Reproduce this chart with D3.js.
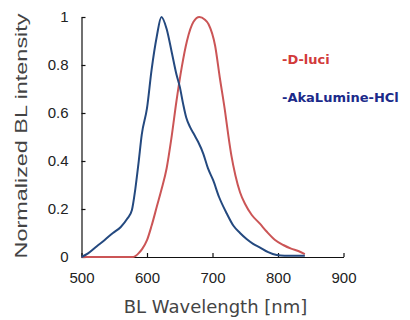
<!DOCTYPE html>
<html>
<head>
<meta charset="utf-8">
<script src="https://cdn.jsdelivr.net/npm/d3@7"></script>
<style>
  body { margin: 0; background: #fff; }
  svg { display: block; font-family: "Liberation Sans", Arial, sans-serif; }
</style>
</head>
<body>
<div id="chart"></div>
<script>
    const xTicks = [500, 600, 700, 800, 900];
    const yTicks = [0, 0.2, 0.4, 0.6, 0.8, 1];

    // D-luci
    const luciWave = [500, 579, 583, 587, 593, 600, 607, 615, 622, 630, 637, 645, 653, 661, 671, 680, 688, 694, 704, 711, 719, 724, 729, 735, 742, 750, 760, 772, 783, 795, 808, 820, 831, 841];
    const luciVal = [0, 0, 0.005, 0.015, 0.035, 0.07, 0.13, 0.21, 0.28, 0.37, 0.49, 0.65, 0.79, 0.9, 0.98, 1.0, 0.99, 0.97, 0.88, 0.75, 0.61, 0.51, 0.42, 0.34, 0.27, 0.22, 0.175, 0.14, 0.105, 0.072, 0.05, 0.035, 0.025, 0.012];

    // AkaLumine-HCl
    const akaWave = [500, 510, 523, 535, 548, 560, 570, 577, 582, 587, 592, 600, 607, 615, 622, 630, 638, 645, 650, 655, 660, 666, 672, 678, 686, 693, 701, 710, 722, 732, 742, 752, 762, 772, 785, 798, 810, 825, 841];
    const akaVal = [0, 0.015, 0.044, 0.07, 0.1, 0.125, 0.16, 0.196, 0.28, 0.39, 0.51, 0.62, 0.78, 0.92, 1.0, 0.95, 0.85, 0.76, 0.71, 0.64, 0.58, 0.54, 0.51, 0.48, 0.43, 0.37, 0.32, 0.25, 0.18, 0.13, 0.1, 0.075, 0.055, 0.04, 0.02, 0.008, 0.005, 0.005, 0.005];

    const w = 410;
    const h = 320;

    const svg = d3.select('#chart')
        .append('svg')
        .attr('width', w)
        .attr('height', h);

    const xScale = d3.scaleLinear()
        .domain([500, 900])
        .range([81.5, 343.5]);

    const yScale = d3.scaleLinear()
        .domain([0, 1])
        .range([257, 17]);

    const xAxis = d3.axisBottom(xScale)
        .tickValues(xTicks)
        .tickFormat(d3.format("d"))
        .tickSizeInner(-4)
        .tickSizeOuter(0)
        .tickPadding(15);

    const yAxis = d3.axisLeft(yScale)
        .tickValues(yTicks)
        .tickFormat(d3.format("~g"))
        .tickSizeInner(-4)
        .tickSizeOuter(0)
        .tickPadding(13);

    const gx = svg.append('g')
        .attr('transform', 'translate(0,' + yScale(0) + ')')
        .call(xAxis);

    const gy = svg.append('g')
        .attr('transform', 'translate(' + xScale(500) + ',0)')
        .call(yAxis);

    [gx, gy].forEach(function (g) {
        g.selectAll('path, line').attr('stroke', '#111').attr('stroke-width', 1.2);
        g.selectAll('text')
            .attr('font-family', '"Liberation Sans", Arial, sans-serif')
            .attr('font-size', '15px')
            .attr('fill', '#222');
    });

    const line = d3.line()
        .x((d) => xScale(d[0]))
        .y((d) => yScale(d[1]))
        .curve(d3.curveMonotoneX);

    svg.append('path')
        .datum(d3.zip(luciWave, luciVal))
        .attr('fill', 'none')
        .attr('stroke', '#cb5556')
        .attr('stroke-width', 2)
        .attr('d', line);

    svg.append('path')
        .datum(d3.zip(akaWave, akaVal))
        .attr('fill', 'none')
        .attr('stroke', '#24497f')
        .attr('stroke-width', 2)
        .attr('d', line);

    // axis titles
    svg.append('text')
        .attr('x', (81.5 + 343.5) / 2 + 3)
        .attr('y', 313)
        .attr('text-anchor', 'middle')
        .attr('font-family', 'Tahoma, "DejaVu Sans", sans-serif')
        .attr('font-size', '18px')
        .attr('fill', '#444')
        .text('BL Wavelength [nm]');

    svg.append('text')
        .attr('transform', 'translate(27,136) rotate(-90)')
        .attr('text-anchor', 'middle')
        .attr('font-family', '"Liberation Sans", Arial, sans-serif')
        .attr('font-size', '17px')
        .attr('textLength', 245)
        .attr('lengthAdjust', 'spacingAndGlyphs')
        .attr('fill', '#444')
        .text('Normalized BL intensity');

    // legend
    const legendNames = ['-D-luci', '-AkaLumine-HCl'];
    const legendColors = ['#d23a3a', '#1b2a8a'];

    svg.selectAll('.legend')
        .data(legendNames)
        .enter()
        .append('text')
        .attr('class', 'legend')
        .attr('x', 282)
        .attr('y', (d, i) => 64 + i * 38)
        .attr('font-family', '"DejaVu Sans", Verdana, sans-serif')
        .attr('font-weight', 'bold')
        .attr('font-size', '13px')
        .attr('fill', (d, i) => legendColors[i])
        .text((d) => d);
</script>
</body>
</html>
